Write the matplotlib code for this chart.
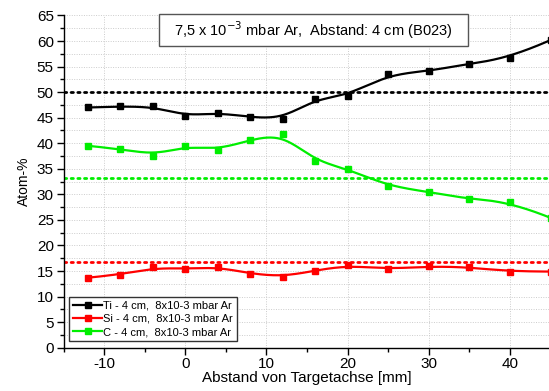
import numpy as np
import matplotlib
matplotlib.use("Agg")
import matplotlib.pyplot as plt
from matplotlib.ticker import MultipleLocator
from matplotlib.patches import Rectangle

plt.rcParams['font.family'] = ['Liberation Sans', 'DejaVu Sans']
plt.rcParams['axes.unicode_minus'] = False

x = [-12, -8, -4, 0, 4, 8, 12, 16, 20, 25, 30, 35, 40, 45]
ti = [47.0, 47.2, 47.3, 45.3, 46.0, 45.1, 44.8, 48.7, 49.3, 53.5, 54.1, 55.6, 56.7, 60.2]
si = [13.7, 14.3, 15.7, 15.4, 15.8, 14.5, 13.9, 15.1, 16.1, 15.4, 15.9, 15.8, 14.9, 14.9]
c = [39.5, 38.9, 37.5, 39.5, 38.7, 40.7, 41.8, 36.5, 35.0, 31.6, 30.5, 29.0, 28.6, 25.4]
ref_ti, ref_si, ref_c = 50.0, 16.7, 33.3
labels = ["Ti - 4 cm,  8x10-3 mbar Ar", "Si - 4 cm,  8x10-3 mbar Ar", "C - 4 cm,  8x10-3 mbar Ar"]
colors = ["#000000", "#ff0000", "#00ee00"]


def bspline(px, py, n=400):
    # clamped uniform cubic B-spline with data points as control points
    P = np.column_stack([px, py]).astype(float)
    m = len(P)
    k = 3
    inner = np.arange(1, m - k)
    knots = np.concatenate([np.zeros(k + 1), inner, np.full(k + 1, m - k)]).astype(float)
    ts = np.linspace(0, m - k, n)
    out = []
    for t in ts:
        N = np.zeros(len(knots) - 1)
        for i in range(len(knots) - 1):
            if knots[i] <= t < knots[i + 1]:
                N[i] = 1.0
        if t >= knots[-1]:
            N[m - 1] = 1.0
        for d in range(1, k + 1):
            Nn = np.zeros(len(knots) - 1 - d)
            for i in range(len(Nn)):
                a = 0.0
                if knots[i + d] != knots[i]:
                    a = (t - knots[i]) / (knots[i + d] - knots[i]) * N[i]
                b = 0.0
                if knots[i + d + 1] != knots[i + 1]:
                    b = (knots[i + d + 1] - t) / (knots[i + d + 1] - knots[i + 1]) * N[i + 1]
                Nn[i] = a + b
            N = Nn
        out.append(N[:m] @ P)
    out = np.array(out)
    return out[:, 0], out[:, 1]


fig = plt.figure(figsize=(5.49, 3.91), dpi=100)
ax = fig.add_axes([0.1157, 0.1107, 0.8873, 0.8497])
ax.set_xlim(-15, 45)
ax.set_ylim(0, 65)

ax.xaxis.set_major_locator(MultipleLocator(10))
ax.xaxis.set_minor_locator(MultipleLocator(5))
ax.yaxis.set_major_locator(MultipleLocator(5))
ax.yaxis.set_minor_locator(MultipleLocator(2.5))
ax.grid(which='major', color='#cccccc', linestyle=(0, (1, 1.5)), linewidth=0.7)
ax.grid(which='minor', axis='y', color='#cccccc', linestyle=(0, (1, 1.5)), linewidth=0.7)
ax.set_axisbelow(True)

for sp in ['top', 'right']:
    ax.spines[sp].set_visible(False)
for sp in ['left', 'bottom']:
    ax.spines[sp].set_linewidth(1.0)

ax.tick_params(which='major', direction='out', length=5, width=1, labelsize=11, pad=2)
ax.tick_params(which='minor', direction='out', length=3, width=1)

for val, col in zip([ref_ti, ref_si, ref_c], colors):
    ax.axhline(val, color=col, linestyle=(0, (0.8, 1.6)), linewidth=2.0, dash_capstyle='round', zorder=2)

handles = []
for ys, col, lab in zip([ti, si, c], colors, labels):
    sx, sy = bspline(x, ys)
    ax.plot(sx, sy, color=col, linewidth=1.6, zorder=3)
    ax.plot(x, ys, linestyle='none', marker='s', markersize=5, color=col, zorder=4)
    h, = ax.plot([], [], color=col, linewidth=1.6, marker='s', markersize=4, label=lab)
    handles.append(h)

leg = ax.legend(handles=handles, loc='lower left', bbox_to_anchor=(0.005, 0.01), fontsize=8,
                frameon=True, fancybox=False, edgecolor='#333333', framealpha=1,
                handlelength=2.6, handletextpad=0.1, borderpad=0.35, labelspacing=0.3,
                borderaxespad=0.3)
leg.get_frame().set_linewidth(1.0)

box = Rectangle((-3.2, 59.0), 38.0, 6.2, facecolor='white', edgecolor='#555555',
                linewidth=1.0, zorder=5, clip_on=False)
ax.add_patch(box)
ax.text(15.8, 62.1, "7,5 x 10$^{-3}$ mbar Ar,  Abstand: 4 cm (B023)", ha='center', va='center',
        fontsize=10.5, zorder=6)

ax.set_xlabel("Abstand von Targetachse [mm]", fontsize=11, labelpad=0)
ax.set_ylabel("Atom-%", fontsize=10, labelpad=4)

fig.savefig("out.png", dpi=100)
